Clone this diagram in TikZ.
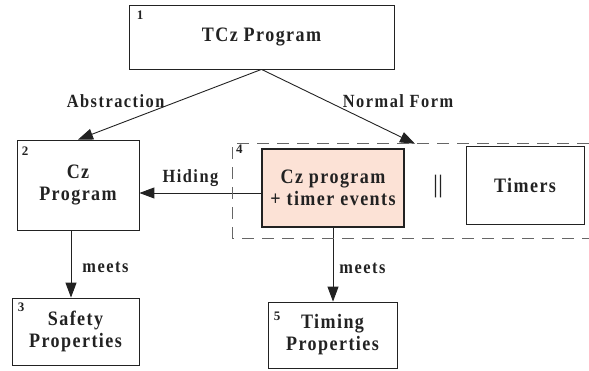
\documentclass[tikz,border=0pt]{standalone}
\usepackage{fontspec}
\setmainfont{Liberation Serif}
\newfontfamily\boxfont[LetterSpace=7,FakeStretch=0.88]{Liberation Serif}
\newfontfamily\labelfont[LetterSpace=8,FakeStretch=0.88]{Liberation Serif}
\usetikzlibrary{arrows.meta,positioning,backgrounds}
\definecolor{boxpink}{RGB}{252,226,214}
\definecolor{inkgray}{RGB}{34,34,34}
\tikzset{
  block/.style={rectangle,draw=inkgray,line width=.8pt,fill=white,
    align=center,inner sep=0pt,text=inkgray,
    font=\boxfont\fontsize{20.5}{22}\selectfont\bfseries},
  flow/.style={-{Triangle[length=15pt,width=11pt]},line width=.9pt,
    draw=inkgray}}

\begin{document}
\begin{tikzpicture}[x=1pt,y=-1pt,
  hot/.style={block,fill=boxpink,line width=2pt},
  grpline/.style={dash pattern=on 12pt off 8pt,line width=.9pt,
    draw=black!60},
  boxnum/.style={anchor=north west,inner sep=0pt,text=inkgray,
    font=\fontsize{13}{13}\selectfont\bfseries},
  parsign/.style={inner sep=0pt,text=inkgray,
    font=\fontsize{25}{25}\selectfont},
  edgelabel/.style={inner sep=2pt,text=inkgray,
    font=\labelfont\fontsize{18.6}{20}\selectfont\bfseries}]

  \useasboundingbox (0,0) rectangle (589,371);

  \node[block,minimum width=265pt,minimum height=64pt] (tcz)
    at (261.5,37) {TCz Program};
  \node[block,minimum width=122pt,minimum height=90pt] (cz)
    at (78,185) {Cz\\Program};
  \node[block,minimum width=127pt,minimum height=67pt] (safety)
    at (75.5,331.5) {Safety\\Properties};
  \node[inner sep=0pt,minimum width=356pt,minimum height=94pt] (grp)
    at (411,191) {};
  \node[hot,minimum width=142pt,minimum height=78pt] (czt)
    at (333,188) {Cz program\\+ timer events};
  \node[parsign] (par) at (438,187) {||};
  \node[block,minimum width=118pt,minimum height=78pt] (timers)
    at (525,185) {Timers};
  \node[block,minimum width=129pt,minimum height=66pt] (timing)
    at (332.5,335) {Timing\\Properties};

  \node[boxnum] (n1) at ([xshift=8pt,yshift=-6pt]tcz.north west) {1};
  \node[boxnum] (n2) at ([xshift=5pt,yshift=-7pt]cz.north west) {2};
  \node[boxnum] (n3) at ([xshift=6pt,yshift=-5pt]safety.north west) {3};
  \node[boxnum] (n4) at ([xshift=3pt,yshift=-1pt]grp.north west) {4};
  \node[boxnum] (n5) at ([xshift=6pt,yshift=-10pt]timing.north west) {5};

  \draw[grpline] (grp.north east) -- (grp.north west) -- (grp.south west)
    -- (grp.south east);

  \begin{scope}[on background layer]
  \draw[flow] (tcz.south) --
    node[edgelabel,pos=.45,anchor=east,xshift=-12pt] {Abstraction} (cz.north);
  \draw[flow] (tcz.south) --
    node[edgelabel,pos=.43,anchor=west,xshift=13pt] {Normal Form}
    ([xshift=4pt]grp.north);
  \draw[flow] ([yshift=-5pt]czt.west) --
    node[edgelabel,above,pos=.58,yshift=4pt] {Hiding}
    ([yshift=-5pt]czt.west -| cz.east);
  \draw[flow] ([xshift=-7pt]cz.south) --
    node[edgelabel,right,pos=.55,xshift=9pt] {meets}
    ([xshift=-7pt]cz.south |- safety.north);
  \draw[flow] (czt.south) --
    node[edgelabel,right,pos=.55,xshift=4pt] {meets}
    (czt.south |- timing.north);
  \end{scope}
\end{tikzpicture}
\end{document}
